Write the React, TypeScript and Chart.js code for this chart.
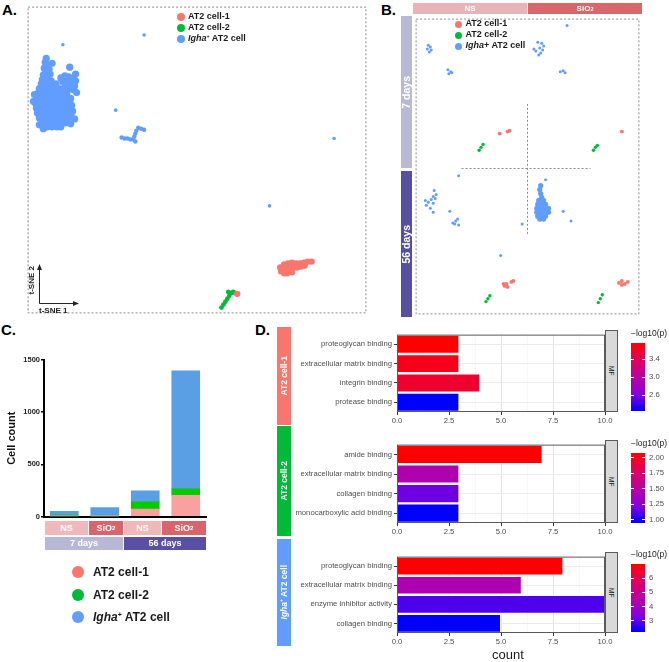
import React, { useEffect, useRef } from 'react';
import { Chart, registerables } from 'chart.js';
Chart.register(...registerables);

const FONT = '"Liberation Sans", Arial, Helvetica, sans-serif';
const RED = '#f8766d';
const GREEN = '#00ba38';
const BLUE = '#619cff';

// ---------- Panel A: t-SNE embedding (t-SNE 1, t-SNE 2) ----------
const aIghaMain: number[][] = [
  [19,261],[18,257],[20,254],[17,251],[22,250],[19,247],[16,244],[23,245],[20,241],[15,239],[24,238],
  [43,252],[49,245],[25,256],
  [34,241],[38,243],[42,242],[46,240],[49,238],[36,237],[41,237],[45,235],[48,233],[39,232],[43,230],[47,229],[50,226],
  [14,235],[19,235],[24,235],[29,235],
  [12,230],[17,230],[22,230],[27,230],[32,230],[37,230],
  [10,225],[15,225],[20,225],[25,225],[30,225],[35,225],[40,225],
  [9,220],[14,220],[19,220],[24,220],[29,220],[34,220],[39,220],[44,220],
  [8,215],[13,215],[18,215],[23,215],[28,215],[33,215],[38,215],[43,215],[45,213],
  [9,210],[14,210],[19,210],[24,210],[29,210],[34,210],[39,210],[44,210],
  [10,205],[15,205],[20,205],[25,205],[30,205],[35,205],[40,205],[44,204],
  [12,200],[17,200],[22,200],[27,200],[32,200],[37,200],[42,200],
  [15,195],[20,195],[25,195],[30,195],[35,195],[39,195],
  [20,191],[25,191],[30,191],[34,191],
  [6,217],[7,224],[46,207],[48,199],[44,194],[12,193],[16,189],
];
const aIghaSmall: number[][] = [
  [96,180],[99,179],[102,179],[105,178],[108,178],[110,176],[109,181],[110,184],[111,187],[113,190],[116,189],[119,188],
];
const aIghaSparse: number[][] = [[119,285],[36,275],[90,208],[313,179],[247,110]];
const aCell1: number[][] = [
  [258,47],[262,50],[266,51],[270,52],[274,51],[278,51],[282,52],[286,53],[290,53],
  [259,43],[263,45],[267,46],[271,47],[275,47],[279,48],[283,49],[265,41],[270,42],[262,41],[214,20],
];
const aCell2: number[][] = [[198,6],[200,9],[202,12],[204,15],[206,18],[208,21],[205,22],[210,22],[212,21]];

// ---------- Panel B: t-SNE split by group ----------
const bIghaSparse: number[][] = [
  [13,274],[15,272],[12,270],[16,269],[14,267],[33,249],[36,247],[34,245],[37,246],
  [125,277],[129,276],[131,273],[127,271],[130,269],[123,268],[128,266],[121,270],[126,264],
  [155,294],[148,247],[151,248],[153,246],
  [19,126],[21,122],[18,120],[20,118],[16,117],[10,116],[13,114],[11,111],[18,113],[15,108],[18,104],
  [35,105],[44,141],[38,93],[41,95],[43,97],[40,92],[44,91],[109,92],[87,60],[133,137],[151,105],[159,95],
];
const bIghaDense: number[][] = [
  [128,131],[127,127],[128,123],[129,119],[126,116],[131,116],[125,112],[129,112],[133,112],
  [124,108],[128,108],[132,108],[136,108],[124,104],[128,104],[132,104],[136,104],
  [125,100],[129,100],[133,100],[127,97],[131,97],
];
const bCell1: number[][] = [
  [94,186],[96,187],[86,184],[211,186],[90,31],[93,31],[91,29],[94,28],[98,33],[100,34],
  [208,32],[211,34],[214,31],[211,30],[217,33],
];
const bCell2: number[][] = [
  [65,167],[67,170],[69,173],[182,167],[184,170],[186,172],[72,13],[74,16],[76,19],[187,12],[189,16],[191,20],
];
const bCross = { x: 114, y0: 82, y1: 214, y: 149, x0: 47, x1: 179 };

// ---------- Panel C: cell counts ----------
const cGroups = ['NS 7 days', 'SiO2 7 days', 'NS 56 days', 'SiO2 56 days'];
const cCell1 = [3, 2, 72, 203];
const cCell2 = [10, 3, 68, 63];
const cIgha = [37, 80, 107, 1131];
const cYMax = 1500;
const cYStep = 500;

// ---------- Panel D: GO MF enrichment ----------
const d1Terms = ['proteoglycan binding', 'extracellular matrix binding', 'integrin binding', 'protease binding'];
const d1Count = [3, 3, 4, 3];
const d1LogP = [3.76, 3.66, 3.58, 2.25];
const d1Ticks = [2.6, 3.0, 3.4];
const d2Terms = ['amide binding', 'extracellular matrix binding', 'collagen binding', 'monocarboxylic acid binding'];
const d2Count = [7, 3, 3, 3];
const d2LogP = [2.08, 1.45, 1.18, 0.95];
const d2Ticks = [1.0, 1.25, 1.5, 1.75, 2.0];
const d3Terms = ['proteoglycan binding', 'extracellular matrix binding', 'enzyme inhibitor activity', 'collagen binding'];
const d3Count = [8, 6, 10, 5];
const d3LogP = [6.98, 4.3, 2.9, 2.23];
const d3Ticks = [3, 4, 5, 6];
const dXTicks = [0, 2.5, 5, 7.5, 10];

// ---------- helpers ----------
const GRAD: [number, number[]][] = [
  [0, [0, 0, 255]], [0.25, [138, 0, 222]], [0.5, [186, 0, 160]], [0.75, [224, 0, 96]], [1, [255, 0, 0]],
];
function gradColor(t: number) {
  t = Math.max(0, Math.min(1, t));
  for (let i = 1; i < GRAD.length; i++) {
    const [t1, c1] = GRAD[i];
    const [t0, c0] = GRAD[i - 1];
    if (t <= t1) {
      const f = (t - t0) / (t1 - t0);
      const c = c0.map((v, k) => Math.round(v + (c1[k] - v) * f));
      return `rgb(${c[0]},${c[1]},${c[2]})`;
    }
  }
  return 'rgb(255,0,0)';
}
const gradCss = 'linear-gradient(to top,' + GRAD.map(([t, c]) => `rgb(${c.join(',')}) ${t * 100}%`).join(',') + ')';

const framePlugin = {
  id: 'frame',
  afterDraw(chart: any, _a: any, opts: any) {
    const { ctx, chartArea: a, scales } = chart;
    ctx.save();
    ctx.strokeStyle = '#8a8a8a';
    ctx.lineWidth = 1;
    ctx.setLineDash([2, 2]);
    ctx.strokeRect(a.left + 0.5, a.top + 0.5, a.width - 1, a.height - 1);
    const c = opts && opts.cross;
    if (c && c.x !== undefined) {
      const xs = scales.x, ys = scales.y;
      ctx.beginPath();
      const vx = Math.round(xs.getPixelForValue(c.x)) + 0.5;
      ctx.moveTo(vx, ys.getPixelForValue(c.y0));
      ctx.lineTo(vx, ys.getPixelForValue(c.y1));
      const hy = Math.round(ys.getPixelForValue(c.y)) + 0.5;
      ctx.moveTo(xs.getPixelForValue(c.x0), hy);
      ctx.lineTo(xs.getPixelForValue(c.x1), hy);
      ctx.stroke();
    }
    ctx.restore();
  },
};

const panelBorder = {
  id: 'panelBorder',
  afterDraw(chart: any) {
    const { ctx, chartArea: a } = chart;
    ctx.save();
    ctx.strokeStyle = '#5a5a5a';
    ctx.lineWidth = 1;
    ctx.strokeRect(a.left + 0.5, a.top + 0.5, a.width - 1, a.height - 1);
    ctx.restore();
  },
};

function scatterConfig(sets: { pts: number[][]; color: string; r: number }[], xmax: number, ymax: number, cross: any) {
  return {
    type: 'scatter',
    data: {
      datasets: sets.map((s) => ({
        data: s.pts.map(([x, y]) => ({ x, y })),
        backgroundColor: s.color,
        pointRadius: s.r,
        pointHoverRadius: s.r,
        borderWidth: 0,
        clip: false,
      })),
    },
    options: {
      responsive: false,
      animation: false,
      events: [],
      layout: { padding: 0 },
      scales: {
        x: { type: 'linear', display: false, min: 0, max: xmax },
        y: { type: 'linear', display: false, min: 0, max: ymax },
      },
      plugins: { legend: { display: false }, tooltip: { enabled: false }, frame: { cross } },
    },
    plugins: [framePlugin],
  };
}

function cConfig() {
  return {
    type: 'bar',
    data: {
      labels: cGroups,
      datasets: [
        { label: 'AT2 cell-1', data: cCell1, backgroundColor: '#f9a19e' },
        { label: 'AT2 cell-2', data: cCell2, backgroundColor: '#00cc00' },
        { label: 'Igha+ AT2 cell', data: cIgha, backgroundColor: '#5a9fe4' },
      ],
    },
    options: {
      responsive: false,
      animation: false,
      events: [],
      layout: { padding: { top: 10, right: 4, left: 0, bottom: 2 } },
      datasets: { bar: { barThickness: 28 } },
      scales: {
        x: {
          stacked: true,
          grid: { display: false, drawTicks: false },
          ticks: { display: false },
          border: { color: '#000', width: 2 },
          afterFit: (s: any) => { s.height = 0; },
        },
        y: {
          stacked: true,
          min: 0,
          max: cYMax,
          ticks: { stepSize: cYStep, color: '#222', padding: 1, font: { family: FONT, size: 7.5, weight: 'bold' }, callback: (v: any) => String(v) },
          grid: { drawOnChartArea: false, tickLength: 3, color: '#000', lineWidth: 1.5 },
          border: { color: '#000', width: 2 },
          title: { display: true, text: 'Cell count', color: '#111', padding: { top: 5, bottom: 0 }, font: { family: FONT, size: 11, weight: 'bold' } },
          afterFit: (s: any) => { s.width = 44; },
        },
      },
      plugins: { legend: { display: false }, tooltip: { enabled: false } },
    },
  };
}

function dConfig(terms: string[], counts: number[], logp: number[]) {
  const lo = Math.min(...logp), hi = Math.max(...logp);
  const major = (v: number) => dXTicks.some((t) => Math.abs(t - v) < 1e-6);
  return {
    type: 'bar',
    data: {
      labels: terms,
      datasets: [{
        data: counts,
        backgroundColor: logp.map((v) => gradColor((v - lo) / (hi - lo))),
        borderColor: '#ffffff',
        borderWidth: 1,
        barPercentage: 0.98,
        categoryPercentage: 1,
      }],
    },
    options: {
      indexAxis: 'y',
      responsive: false,
      animation: false,
      events: [],
      layout: { padding: { top: 2, right: 20, left: 0, bottom: 0 } },
      scales: {
        x: {
          type: 'linear', min: 0, max: 10,
          afterFit: (s: any) => { s.height = 14; },
          ticks: {
            stepSize: 1.25, autoSkip: false, maxRotation: 0, padding: 1, color: '#4d4d4d',
            font: { family: FONT, size: 7.7 },
            callback: (v: any) => (major(Number(v)) ? Number(v).toFixed(1) : ''),
          },
          grid: {
            color: (c: any) => (c.tick && major(c.tick.value) ? '#e3e3e3' : '#f2f2f2'),
            lineWidth: (c: any) => (c.tick && major(c.tick.value) ? 1 : 0.6),
            tickLength: 3,
            tickColor: (c: any) => (c.tick && major(c.tick.value) ? '#333' : 'rgba(0,0,0,0)'),
          },
          border: { display: false },
        },
        y: {
          afterFit: (s: any) => { s.width = 157; },
          ticks: { padding: 2, color: '#4d4d4d', autoSkip: false, font: { family: FONT, size: 7.7 } },
          grid: { offset: false, color: '#ebebeb', tickLength: 3, tickColor: '#333' },
          border: { display: false },
        },
      },
      plugins: { legend: { display: false }, tooltip: { enabled: false } },
    },
    plugins: [panelBorder],
  };
}

function ChartCanvas({ left, top, width, height, make }: { left: number; top: number; width: number; height: number; make: () => any }) {
  const ref = useRef<HTMLCanvasElement | null>(null);
  useEffect(() => {
    const chart = new Chart(ref.current as HTMLCanvasElement, make());
    return () => chart.destroy();
  }, []);
  return <canvas ref={ref} width={width} height={height} style={{ position: 'absolute', left, top, width, height }} />;
}

const box = (l: number, t: number, w: number, h: number): React.CSSProperties => ({ position: 'absolute', left: l, top: t, width: w, height: h });

function Strip({ l, t, w, h, bg, size = 9, vertical = false, down = false, color = '#fff', bold = true, children }: any) {
  return (
    <div style={{ ...box(l, t, w, h), background: bg, display: 'flex', alignItems: 'center', justifyContent: 'center', color, fontWeight: bold ? 'bold' : 'normal', fontSize: size, fontFamily: FONT, overflow: 'hidden', whiteSpace: 'nowrap', lineHeight: 1 }}>
      {vertical ? <span style={{ writingMode: 'vertical-rl', transform: down ? undefined : 'rotate(180deg)' }}>{children}</span> : children}
    </div>
  );
}

const SiO2 = () => (<>SiO<sub style={{ fontSize: '0.68em', verticalAlign: '-0.3em', lineHeight: 0 }}>2</sub></>);
const IghaSup = () => (<><i>Igha</i><sup style={{ fontSize: '0.6em', verticalAlign: '0.5em', lineHeight: 0 }}>+</sup> AT2 cell</>);

function LegendRow({ cx, cy, r, color, size, gap, children }: any) {
  return (
    <>
      <div style={{ ...box(cx - r, cy - r, 2 * r, 2 * r), borderRadius: '50%', background: color }} />
      <div style={{ position: 'absolute', left: cx + r + gap, top: cy - size * 0.62, fontFamily: FONT, fontWeight: 'bold', fontSize: size, color: '#1a1a1a', whiteSpace: 'nowrap', lineHeight: 1.2 }}>{children}</div>
    </>
  );
}

function ColorBar({ top, bottom, logp, ticks, decimals }: { top: number; bottom: number; logp: number[]; ticks: number[]; decimals: number }) {
  const lo = Math.min(...logp), hi = Math.max(...logp);
  const h = bottom - top;
  return (
    <>
      <div style={{ position: 'absolute', left: 631, top: top - 15, fontFamily: FONT, fontSize: 8.5, color: '#1a1a1a', whiteSpace: 'nowrap' }}>−log10(p)</div>
      <div style={{ ...box(631, top, 14, h), background: gradCss }} />
      {ticks.map((t) => {
        const y = bottom - ((t - lo) / (hi - lo)) * h;
        return (
          <React.Fragment key={t}>
            <div style={{ ...box(631, y - 0.5, 3, 1), background: '#fff' }} />
            <div style={{ ...box(642, y - 0.5, 3, 1), background: '#fff' }} />
            <div style={{ position: 'absolute', left: 649, top: y - 5, fontFamily: FONT, fontSize: 7.7, color: '#4d4d4d', lineHeight: '10px' }}>{t.toFixed(decimals)}</div>
          </React.Fragment>
        );
      })}
    </>
  );
}

function MF({ top, bottom }: { top: number; bottom: number }) {
  return (
    <div style={{ ...box(605, top, 13, bottom - top), background: '#d9d9d9', border: '1px solid #5a5a5a', boxSizing: 'border-box', display: 'flex', alignItems: 'center', justifyContent: 'center', fontFamily: FONT, fontSize: 6.5, color: '#1a1a1a' }}>
      <span style={{ writingMode: 'vertical-rl' }}>MF</span>
    </div>
  );
}

const panelLabel = (l: number, t: number, s: string) => (
  <div style={{ position: 'absolute', left: l, top: t, fontFamily: FONT, fontWeight: 'bold', fontSize: 15, color: '#000', lineHeight: 1 }}>{s}</div>
);

export default function App() {
  const dRows = [
    { top: 330, bottom: 412, terms: d1Terms, count: d1Count, logp: d1LogP, ticks: d1Ticks, dec: 1, cbTop: 343, cbBottom: 411 },
    { top: 440, bottom: 523, terms: d2Terms, count: d2Count, logp: d2LogP, ticks: d2Ticks, dec: 2, cbTop: 453, cbBottom: 523 },
    { top: 552, bottom: 633, terms: d3Terms, count: d3Count, logp: d3LogP, ticks: d3Ticks, dec: 0, cbTop: 564, cbBottom: 632 },
  ];
  return (
    <div style={{ position: 'fixed', left: 0, top: 0, width: 669, height: 662, background: '#fff', overflow: 'hidden' }}>
      {panelLabel(2, 2, 'A.')}
      {panelLabel(381, 2, 'B.')}
      {panelLabel(1, 322, 'C.')}
      {panelLabel(255, 322, 'D.')}

      {/* Panel A */}
      <ChartCanvas left={24} top={3} width={346} height={314} make={() => scatterConfig([
        { pts: aIghaMain, color: BLUE, r: 3.6 },
        { pts: aIghaSmall, color: BLUE, r: 2.2 },
        { pts: aIghaSparse, color: BLUE, r: 1.8 },
        { pts: aCell1, color: RED, r: 3.2 },
        { pts: aCell2, color: GREEN, r: 2.4 },
      ], 346, 314, null)} />
      <LegendRow cx={181} cy={17} r={4} color={RED} size={9} gap={3}>AT2 cell-1</LegendRow>
      <LegendRow cx={181} cy={28} r={4} color={GREEN} size={9} gap={3}>AT2 cell-2</LegendRow>
      <LegendRow cx={181} cy={39} r={4} color={BLUE} size={9} gap={3}><IghaSup /></LegendRow>
      <svg style={{ position: 'absolute', left: 0, top: 0 }} width={669} height={662}>
        <line x1={39.5} y1={303.5} x2={39.5} y2={268} stroke="#222" strokeWidth={1} />
        <polygon points="39.5,264 37,270 42,270" fill="#222" />
        <line x1={39.5} y1={303.5} x2={75} y2={303.5} stroke="#222" strokeWidth={1} />
        <polygon points="79,303.5 73,301 73,306" fill="#222" />
      </svg>
      <div style={{ position: 'absolute', left: 39, top: 307, fontFamily: FONT, fontWeight: 'bold', fontSize: 8, color: '#222', lineHeight: 1, whiteSpace: 'nowrap' }}>t-SNE 1</div>
      <div style={{ ...box(27, 265, 10, 30), display: 'flex', alignItems: 'center', justifyContent: 'center', fontFamily: FONT, fontWeight: 'bold', fontSize: 8, color: '#222', whiteSpace: 'nowrap', lineHeight: 1 }}>
        <span style={{ writingMode: 'vertical-rl', transform: 'rotate(180deg)' }}>t-SNE 2</span>
      </div>

      {/* Panel B */}
      <Strip l={413} t={3} w={114} h={11} bg="#e8b4b8" size={8}>NS</Strip>
      <Strip l={528} t={3} w={114} h={11} bg="#d9666b" size={8}><SiO2 /></Strip>
      <Strip l={401} t={16} w={11} h={152} bg="#b9b9d4" size={10.5} vertical>7 days</Strip>
      <Strip l={401} t={171} w={11} h={146} bg="#5750a0" size={10.5} vertical>56 days</Strip>
      <ChartCanvas left={413} top={16} width={229} height={301} make={() => scatterConfig([
        { pts: bIghaSparse, color: BLUE, r: 1.5 },
        { pts: bIghaDense, color: BLUE, r: 2.6 },
        { pts: bCell1, color: RED, r: 1.9 },
        { pts: bCell2, color: GREEN, r: 1.7 },
      ], 229, 301, bCross)} />
      <LegendRow cx={458} cy={24} r={3.5} color={RED} size={9} gap={4}>AT2 cell-1</LegendRow>
      <LegendRow cx={458} cy={35} r={3.5} color={GREEN} size={9} gap={4}>AT2 cell-2</LegendRow>
      <LegendRow cx={458} cy={46} r={3.5} color={BLUE} size={9} gap={4}><i>Igha</i>+ AT2 cell</LegendRow>

      {/* Panel C */}
      <ChartCanvas left={0} top={350} width={210} height={172} make={cConfig} />
      <Strip l={45} t={521} w={43} h={14} bg="#efb8bb" size={9}>NS</Strip>
      <Strip l={89} t={521} w={34} h={14} bg="#d7656b" size={9}><SiO2 /></Strip>
      <Strip l={124} t={521} w={37} h={14} bg="#efb8bb" size={9}>NS</Strip>
      <Strip l={162} t={521} w={44} h={14} bg="#d7656b" size={9}><SiO2 /></Strip>
      <Strip l={45} t={537} w={78} h={13} bg="#b8b8d6" size={9}>7 days</Strip>
      <Strip l={124} t={537} w={82} h={13} bg="#5a4fa3" size={9}>56 days</Strip>
      <LegendRow cx={78} cy={572} r={6} color={RED} size={12} gap={9}>AT2 cell-1</LegendRow>
      <LegendRow cx={78} cy={595} r={6} color={GREEN} size={12} gap={9}>AT2 cell-2</LegendRow>
      <LegendRow cx={78} cy={617} r={6} color={BLUE} size={12} gap={9}><IghaSup /></LegendRow>

      {/* Panel D */}
      <Strip l={277} t={327} w={14} h={98} bg={RED} size={8.5} vertical>AT2 cell-1</Strip>
      <Strip l={277} t={426} w={14} h={110} bg={GREEN} size={8.5} vertical>AT2 cell-2</Strip>
      <Strip l={277} t={539} w={14} h={107} bg={BLUE} size={8.5} vertical><IghaSup /></Strip>
      {dRows.map((r, i) => (
        <React.Fragment key={i}>
          <ChartCanvas left={240} top={r.top - 2} width={385} height={r.bottom - r.top + 16} make={() => dConfig(r.terms, r.count, r.logp)} />
          <MF top={r.top} bottom={r.bottom} />
          <ColorBar top={r.cbTop} bottom={r.cbBottom} logp={r.logp} ticks={r.ticks} decimals={r.dec} />
        </React.Fragment>
      ))}
      <div style={{ position: 'absolute', left: 492, top: 648, fontFamily: FONT, fontSize: 13, color: '#1a1a1a', lineHeight: 1 }}>count</div>
    </div>
  );
}
